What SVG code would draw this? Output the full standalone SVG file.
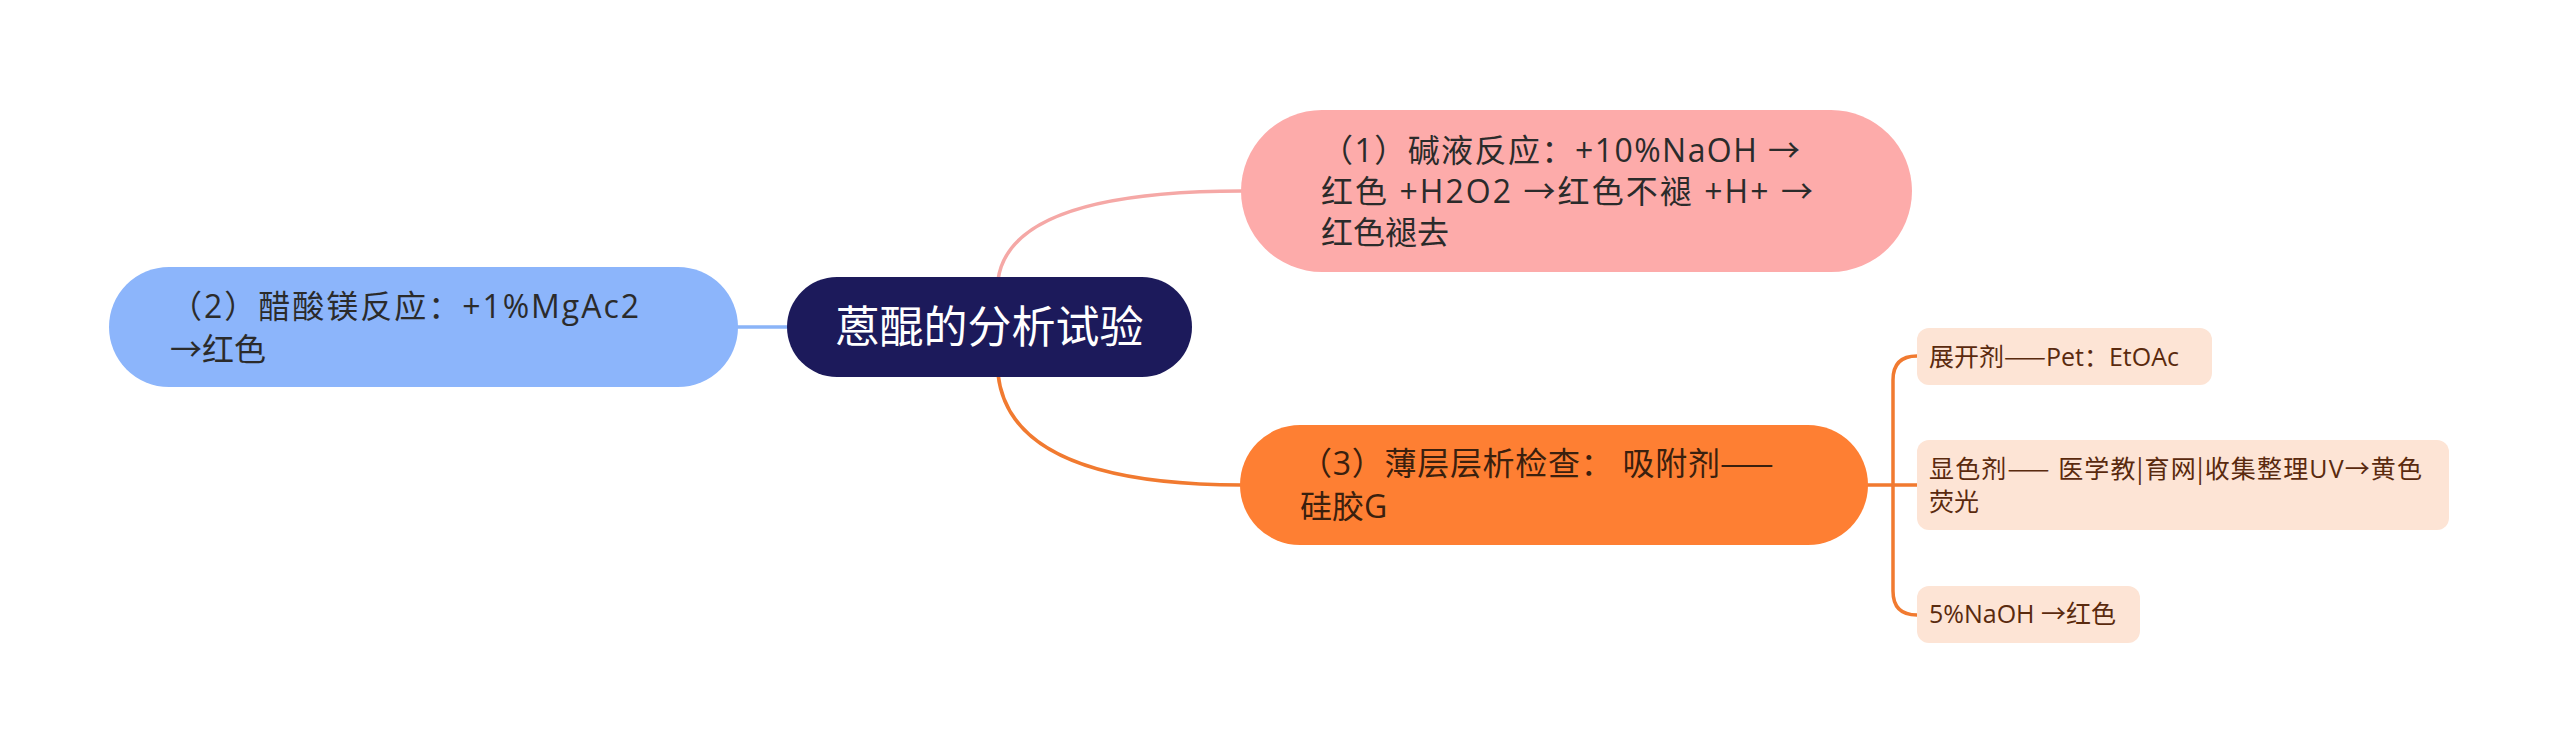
<svg xmlns="http://www.w3.org/2000/svg" width="2560" height="753" viewBox="0 0 2560 753">
<style>
.t{font-family:"Open Sans","Noto Sans CJK SC",sans-serif;}
.r{font-family:"Noto Sans CJK SC",sans-serif;}
.l1{font-size:32px;fill:#2b2b2b;}
.l2{font-size:25px;fill:#5a2a0e;}
.root{font-size:44px;fill:#ffffff;}
.conn{fill:none;stroke-width:3.5;stroke-linecap:round;}
</style>
<rect width="2560" height="753" fill="#ffffff"/>
<g id="connectors">
  <path class="conn" stroke="#f5a8a6" d="M998 280 Q1010 191 1242 191"/>
  <path class="conn" stroke="#f17a30" d="M998 374 Q1010 485 1242 485"/>
  <path class="conn" stroke="#8ab4f8" stroke-width="4" d="M736 327 L790 327"/>
  <path class="conn" stroke="#f17a30" d="M1866 485 L1917 485"/>
  <path class="conn" stroke="#f17a30" d="M1917 356 Q1893 356 1893 380 L1893 591 Q1893 615 1917 615"/>
</g>
<g id="root">
  <rect x="787" y="277" width="405" height="100" rx="50" fill="#1c1a5b"/>
  <text class="r root" x="989.5" y="343" text-anchor="middle">蒽醌的分析试验</text>
</g>
<g id="n1">
  <rect x="1241" y="110" width="671" height="162" rx="81" fill="#fdabaa"/>
  <text class="t l1" x="1321" y="162" textLength="479" lengthAdjust="spacing">（1）碱液反应：+10%NaOH →</text>
  <text class="t l1" x="1321" y="203" textLength="492" lengthAdjust="spacing">红色 +H2O2 →红色不褪 +H+ →</text>
  <text class="t l1" x="1321" y="244">红色褪去</text>
</g>
<g id="n2">
  <rect x="109" y="267" width="629" height="120" rx="60" fill="#8cb5fb"/>
  <text class="t l1" x="170" y="318" textLength="469" lengthAdjust="spacing">（2）醋酸镁反应：+1%MgAc2</text>
  <text class="t l1" x="170" y="361">→红色</text>
</g>
<g id="n3">
  <rect x="1240" y="425" width="628" height="120" rx="60" fill="#fe7f33"/>
  <text class="t l1" x="1300" y="475" textLength="420" lengthAdjust="spacing" style="fill:#3a200e">（3）薄层层析检查： 吸附剂</text>
  <text class="r l1" x="1720" y="475" style="fill:#3a200e">——</text>
  <text class="t l1" x="1300" y="518" style="fill:#3a200e">硅胶G</text>
</g>
<g id="n31">
  <rect x="1917" y="328" width="295" height="57" rx="12" fill="#fde4d5"/>
  <text class="t l2" x="1929" y="366">展开剂<tspan class="r">——</tspan>Pet：EtOAc</text>
</g>
<g id="n32">
  <rect x="1917" y="440" width="532" height="90" rx="12" fill="#fde4d5"/>
  <text class="t l2" x="1929" y="478" textLength="493" lengthAdjust="spacing">显色剂<tspan class="r">——</tspan> 医学教<tspan class="r">|</tspan>育网<tspan class="r">|</tspan>收集整理UV→黄色</text>
  <text class="t l2" x="1929" y="511">荧光</text>
</g>
<g id="n33">
  <rect x="1917" y="586" width="223" height="57" rx="12" fill="#fde4d5"/>
  <text class="t l2" x="1929" y="623">5%NaOH →红色</text>
</g>
</svg>
